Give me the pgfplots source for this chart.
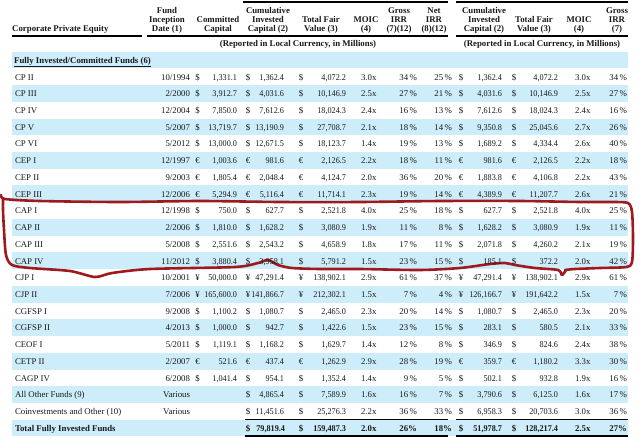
\documentclass[border=0pt]{standalone}
\usepackage{pgfplots}
\usepackage{pgfplotstable}
\pgfplotsset{compat=1.18}
\usepackage{fontspec}
\setmainfont{Liberation Serif}
\newfontfamily\numfont[FakeStretch=0.93]{Liberation Serif}
\definecolor{band}{HTML}{CCEDF9}
\definecolor{redink}{HTML}{9E1A1F}
\newcommand\tf{\fontsize{8.8}{9.4}\selectfont}

\pgfplotstableread[col sep=semicolon]{
i;name;date;ca;comm;cb;cum;cc;tfv;moic;girr;nirr;cd;rcum;ce;rtfv;rmoic;rgirr
1;CP II;10/1994;\$;1,331.1;\$;1,362.4;\$;4,072.2;3.0x;34\,\%;25\,\%;\$;1,362.4;\$;4,072.2;3.0x;34\,\%
2;CP III;2/2000;\$;3,912.7;\$;4,031.6;\$;10,146.9;2.5x;27\,\%;21\,\%;\$;4,031.6;\$;10,146.9;2.5x;27\,\%
3;CP IV;12/2004;\$;7,850.0;\$;7,612.6;\$;18,024.3;2.4x;16\,\%;13\,\%;\$;7,612.6;\$;18,024.3;2.4x;16\,\%
4;CP V;5/2007;\$;13,719.7;\$;13,190.9;\$;27,708.7;2.1x;18\,\%;14\,\%;\$;9,350.8;\$;25,045.6;2.7x;26\,\%
5;CP VI;5/2012;\$;13,000.0;\$;12,671.5;\$;18,123.7;1.4x;19\,\%;13\,\%;\$;1,689.2;\$;4,334.4;2.6x;40\,\%
6;CEP I;12/1997;€;1,003.6;€;981.6;€;2,126.5;2.2x;18\,\%;11\,\%;€;981.6;€;2,126.5;2.2x;18\,\%
7;CEP II;9/2003;€;1,805.4;€;2,048.4;€;4,124.7;2.0x;36\,\%;20\,\%;€;1,883.8;€;4,106.8;2.2x;43\,\%
8;CEP III;12/2006;€;5,294.9;€;5,116.4;€;11,714.1;2.3x;19\,\%;14\,\%;€;4,389.9;€;11,207.7;2.6x;21\,\%
9;CAP I;12/1998;\$;750.0;\$;627.7;\$;2,521.8;4.0x;25\,\%;18\,\%;\$;627.7;\$;2,521.8;4.0x;25\,\%
10;CAP II;2/2006;\$;1,810.0;\$;1,628.2;\$;3,080.9;1.9x;11\,\%;8\,\%;\$;1,628.2;\$;3,080.9;1.9x;11\,\%
11;CAP III;5/2008;\$;2,551.6;\$;2,543.2;\$;4,658.9;1.8x;17\,\%;11\,\%;\$;2,071.8;\$;4,260.2;2.1x;19\,\%
12;CAP IV;11/2012;\$;3,880.4;\$;3,958.1;\$;5,791.2;1.5x;23\,\%;15\,\%;\$;185.1;\$;372.2;2.0x;42\,\%
13;CJP I;10/2001;¥;50,000.0;¥;47,291.4;¥;138,902.1;2.9x;61\,\%;37\,\%;¥;47,291.4;¥;138,902.1;2.9x;61\,\%
14;CJP II;7/2006;¥;165,600.0;¥;141,866.7;¥;212,302.1;1.5x;7\,\%;4\,\%;¥;126,166.7;¥;191,642.2;1.5x;7\,\%
15;CGFSP I;9/2008;\$;1,100.2;\$;1,080.7;\$;2,465.0;2.3x;20\,\%;14\,\%;\$;1,080.7;\$;2,465.0;2.3x;20\,\%
16;CGFSP II;4/2013;\$;1,000.0;\$;942.7;\$;1,422.6;1.5x;23\,\%;15\,\%;\$;283.1;\$;580.5;2.1x;33\,\%
17;CEOF I;5/2011;\$;1,119.1;\$;1,168.2;\$;1,629.7;1.4x;12\,\%;8\,\%;\$;346.9;\$;824.6;2.4x;38\,\%
18;CETP II;2/2007;€;521.6;€;437.4;€;1,262.9;2.9x;28\,\%;19\,\%;€;359.7;€;1,180.2;3.3x;30\,\%
19;CAGP IV;6/2008;\$;1,041.4;\$;954.1;\$;1,352.4;1.4x;9\,\%;5\,\%;\$;502.1;\$;932.8;1.9x;16\,\%
20;All Other Funds (9);Various;{};{};\$;4,865.4;\$;7,589.9;1.6x;16\,\%;7\,\%;\$;3,790.6;\$;6,125.0;1.6x;17\,\%
21;Coinvestments and Other (10);Various;{};{};\$;11,451.6;\$;25,276.3;2.2x;36\,\%;33\,\%;\$;6,958.3;\$;20,703.6;3.0x;36\,\%
}\datatable

\pgfplotstableread[col sep=semicolon]{
i;name;date;ca;comm;cb;cum;cc;tfv;moic;girr;nirr;cd;rcum;ce;rtfv;rmoic;rgirr
22;Total Fully Invested Funds;{};{};{};\$;79,819.4;\$;159,487.3;2.0x;26\%;18\%;\$;51,978.7;\$;128,217.4;2.5x;27\%
}\totaltable

\pgfplotsset{
  tcol/.style={draw=none, mark=none, nodes near coords, point meta=explicit symbolic,
    every node near coord/.append style={anchor=#1, inner sep=0pt, outer sep=0pt, font=\tf, text=black!90}},
  ncol/.style={tcol=#1, every node near coord/.append style={font=\tf\numfont}},
  bcol/.style={tcol=#1, every node near coord/.append style={font=\tf\bfseries}},
  bncol/.style={tcol=#1, every node near coord/.append style={font=\tf\numfont\bfseries}},
}
\newcommand\col[4]{\addplot[#1] table[x expr=#2, y expr=63.3+16.73*\thisrow{i}, meta=#3] {#4};}

\begin{document}
\begin{tikzpicture}
\begin{axis}[scale only axis, width=640pt, height=437pt,
  xmin=0, xmax=640, ymin=0, ymax=437, y dir=reverse,
  axis lines=none, ticks=none, clip=false]
% row bands
\pgfplotsinvokeforeach{0,2,...,22}{
  \fill[band] (axis cs:12,{51.63+16.73*#1}) rectangle (axis cs:628,{68.36+16.73*#1});
}
% rules
\draw[line width=1.3pt] (axis cs:243,2) -- (axis cs:448,2);
\draw[line width=1.3pt] (axis cs:456,2) -- (axis cs:628,2);
\draw[line width=1.8pt] (axis cs:12,36) -- (axis cs:142,36);
\draw[line width=1.8pt] (axis cs:147,36) -- (axis cs:448,36);
\draw[line width=1.8pt] (axis cs:456,36) -- (axis cs:628,36);
\draw[line width=0.8pt] (axis cs:245,419.5) -- (axis cs:448,419.5);
\draw[line width=0.8pt] (axis cs:456,419.5) -- (axis cs:628,419.5);
\draw[line width=1.6pt] (axis cs:245,436) -- (axis cs:448,436);
\draw[line width=1.6pt] (axis cs:456,436) -- (axis cs:628,436);
% header
\begin{scope}[every node/.style={font=\fontsize{8.8}{9.4}\selectfont\bfseries, align=center, anchor=south, inner sep=0pt, text=black!90}]
\node[anchor=south west] at (axis cs:12,34) {Corporate Private Equity};
\node at (axis cs:167,34) {Fund\\Inception\\Date (1)};
\node at (axis cs:218,34) {Committed\\Capital};
\node at (axis cs:268,34) {Cumulative\\Invested\\Capital (2)};
\node at (axis cs:321,34) {Total Fair\\Value (3)};
\node at (axis cs:366,34) {MOIC\\(4)};
\node at (axis cs:399,34) {Gross\\IRR\\(7)(12)};
\node at (axis cs:434,34) {Net\\IRR\\(8)(12)};
\node at (axis cs:484,34) {Cumulative\\Invested\\Capital (2)};
\node at (axis cs:534,34) {Total Fair\\Value (3)};
\node at (axis cs:579,34) {MOIC\\(4)};
\node at (axis cs:617,34) {Gross\\IRR\\(7)};
\node[anchor=base] at (axis cs:298,46.5) {(Reported in Local Currency, in Millions)};
\node[anchor=base] at (axis cs:542,46.5) {(Reported in Local Currency, in Millions)};
\node[anchor=base west] at (axis cs:14,63.3) {\underline{Fully Invested/Committed Funds (6)}};
\end{scope}
% body columns
\col{tcol=base west}{15}{name}{\datatable}
\col{tcol=base east}{190}{date}{\datatable}
\col{tcol=base}{197.5}{ca}{\datatable}
\col{ncol=base east}{237}{comm}{\datatable}
\col{tcol=base}{248}{cb}{\datatable}
\col{ncol=base east}{284}{cum}{\datatable}
\col{tcol=base}{301}{cc}{\datatable}
\col{ncol=base east}{346}{tfv}{\datatable}
\col{tcol=base west}{361}{moic}{\datatable}
\col{tcol=base east}{417}{girr}{\datatable}
\col{tcol=base east}{452}{nirr}{\datatable}
\col{tcol=base}{461}{cd}{\datatable}
\col{ncol=base east}{502}{rcum}{\datatable}
\col{tcol=base}{514}{ce}{\datatable}
\col{ncol=base east}{558}{rtfv}{\datatable}
\col{tcol=base west}{575}{rmoic}{\datatable}
\col{tcol=base east}{627}{rgirr}{\datatable}
% total row
\col{bcol=base west}{15}{name}{\totaltable}
\col{bcol=base}{248}{cb}{\totaltable}
\col{bncol=base east}{285}{cum}{\totaltable}
\col{bcol=base}{301}{cc}{\totaltable}
\col{bncol=base east}{346}{tfv}{\totaltable}
\col{bcol=base west}{361}{moic}{\totaltable}
\col{bcol=base east}{417}{girr}{\totaltable}
\col{bcol=base east}{452}{nirr}{\totaltable}
\col{bcol=base}{461}{cd}{\totaltable}
\col{bncol=base east}{502}{rcum}{\totaltable}
\col{bcol=base}{514}{ce}{\totaltable}
\col{bncol=base east}{558}{rtfv}{\totaltable}
\col{bcol=base west}{575}{rmoic}{\totaltable}
\col{bcol=base east}{627}{rgirr}{\totaltable}
% red hand-drawn loop
\draw[redink, line width=2.6pt, line cap=round, line join=round]
  plot[smooth, tension=0.45] coordinates {
  (1,195) (5,199) (40,201) (120,202) (200,201) (280,202) (360,202) (440,201)
  (520,201) (580,202) (612,202) (628,203) (632,212) (633,238) (632,262) (626,267)
  (600,268) (575,269) (565,270)};
\draw[redink, line width=2.6pt, line cap=round, line join=round]
  plot[smooth, tension=0.45] coordinates {
  (566,270) (562,275) (558,270) (535,268) (515,265) (505,263) (490,264) (460,268)
  (420,270) (360,269) (320,269) (292,268) (278,265) (268,260) (258,263) (235,267)
  (150,269) (112,273) (95,277) (70,271) (30,268) (12,265) (6,255) (4,230) (3,210) (3,199)};
\end{axis}
\pgfresetboundingbox
\path (current axis.south west) rectangle (current axis.north east);
\end{tikzpicture}
\end{document}
